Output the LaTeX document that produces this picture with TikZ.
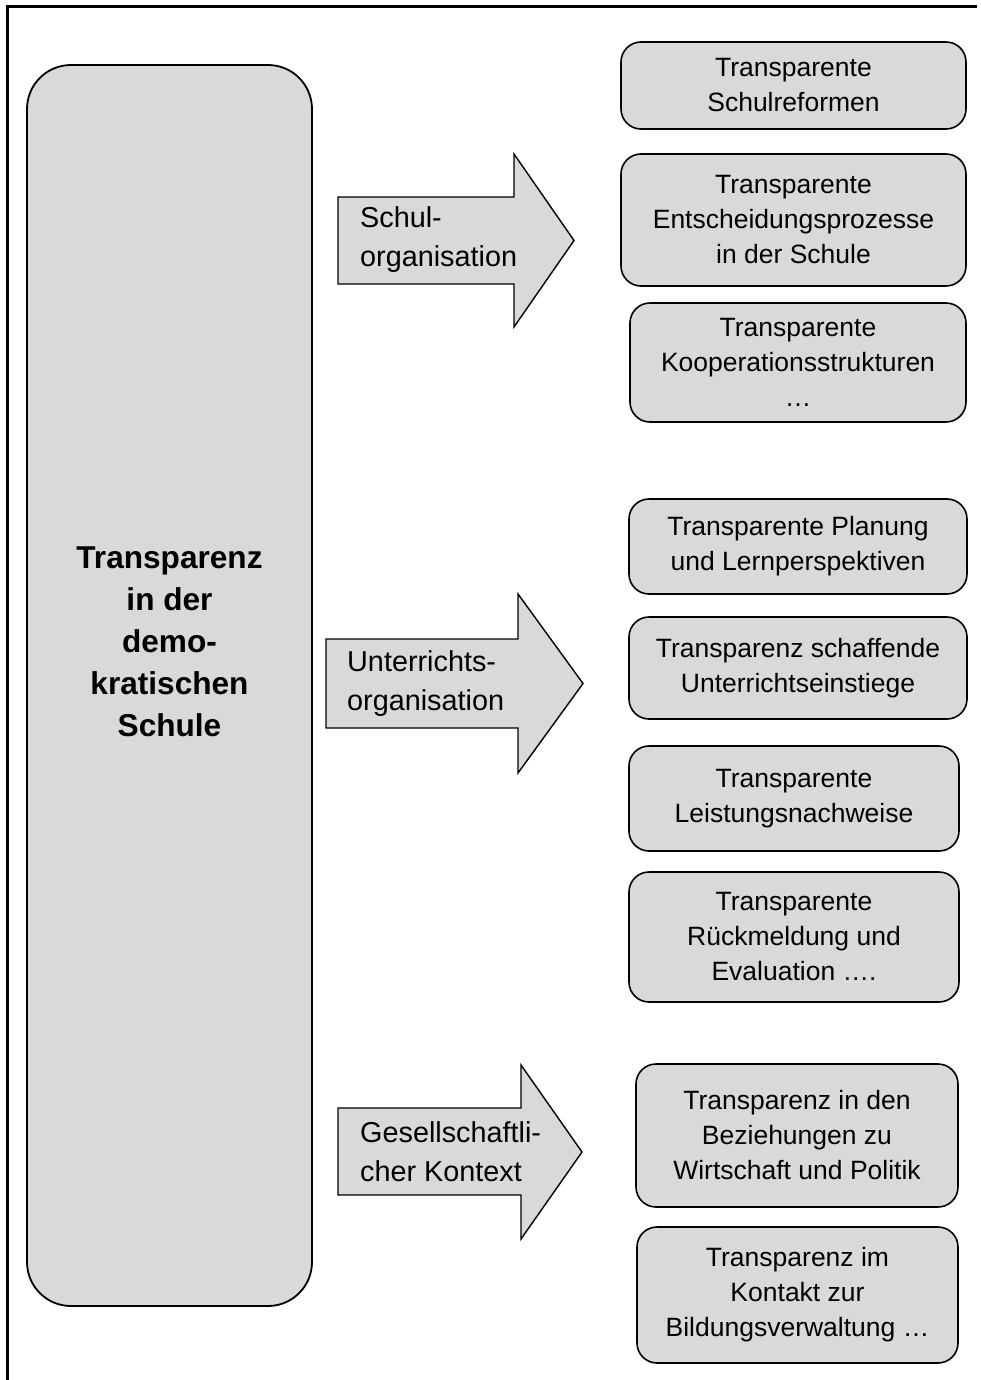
\documentclass[tikz,border=0pt]{standalone}
\usepackage{fontspec}
\setmainfont{Liberation Sans}
\usepackage{tikz}
\usetikzlibrary{arrows.meta}

\begin{document}
\begin{tikzpicture}[x=1pt, y=-1pt,
                main/.style = {draw, line width=1.8pt, fill=gray!30, rectangle, rounded corners=44pt},
                item/.style = {draw, line width=1.6pt, fill=gray!30, rectangle, rounded corners=20pt, align=center, font=\fontsize{26.5}{35}\selectfont},
                pfeil/.style = {draw, line width=1.4pt, fill=gray!30, line join=miter},
                lab/.style = {inner sep=0pt, align=left, anchor=west, font=\fontsize{28.8}{39}\selectfont}]
                \useasboundingbox (0,0) rectangle (981,1380);
                % Rahmen
                \draw[line width=3pt] (7,1380) -- (7,7) -- (977,7);
                % linke Saeule
                \node[main, minimum width=285pt, minimum height=1241pt] (0) at (169.5,685.5) {};
                \node[inner sep=0pt, align=center, font=\fontsize{31.6}{42}\selectfont\bfseries] (t) at (169.5,642) {Transparenz\\in der\\demo-\\kratischen\\Schule};
                % Pfeile
                \draw[pfeil] (338,197) -- (514,197) -- (514,154) -- (574,240.5) -- (514,327) -- (514,284) -- (338,284) -- cycle;
                \draw[pfeil] (326,639) -- (518,639) -- (518,594) -- (583,683.5) -- (518,773) -- (518,728) -- (326,728) -- cycle;
                \draw[pfeil] (338,1108) -- (521,1108) -- (521,1065) -- (582,1152) -- (521,1239) -- (521,1195) -- (338,1195) -- cycle;
                \node[lab] (a1) at (360,240) {Schul-\\organisation};
                \node[lab] (a2) at (347,684) {Unterrichts-\\organisation};
                \node[lab] (a3) at (360,1152) {Gesellschaftli-\\cher Kontext};
                % rechte Kaesten
                \node[item, minimum width=345pt, minimum height=87pt] (1) at (793.5,85.5) {Transparente\\Schulreformen};
                \node[item, minimum width=345pt, minimum height=132pt] (2) at (793.5,220) {Transparente\\Entscheidungsprozesse\\in der Schule};
                \node[item, minimum width=336pt, minimum height=119pt] (3) at (798,362.5) {Transparente\\Kooperationsstrukturen\\…};
                \node[item, minimum width=338pt, minimum height=95pt] (4) at (798,546.5) {Transparente Planung\\und Lernperspektiven};
                \node[item, minimum width=338pt, minimum height=102pt] (5) at (798,668) {Transparenz schaffende\\Unterrichtseinstiege};
                \node[item, minimum width=330pt, minimum height=105pt] (6) at (794,798.5) {Transparente\\Leistungsnachweise};
                \node[item, minimum width=330pt, minimum height=130pt] (7) at (794,937) {Transparente\\Rückmeldung und\\Evaluation ….};
                \node[item, minimum width=322pt, minimum height=143pt] (8) at (797,1135.5) {Transparenz in den\\Beziehungen zu\\Wirtschaft und Politik};
                \node[item, minimum width=321pt, minimum height=136pt] (9) at (797.5,1295) {Transparenz im\\Kontakt zur\\Bildungsverwaltung …};
            \end{tikzpicture}
\end{document}
